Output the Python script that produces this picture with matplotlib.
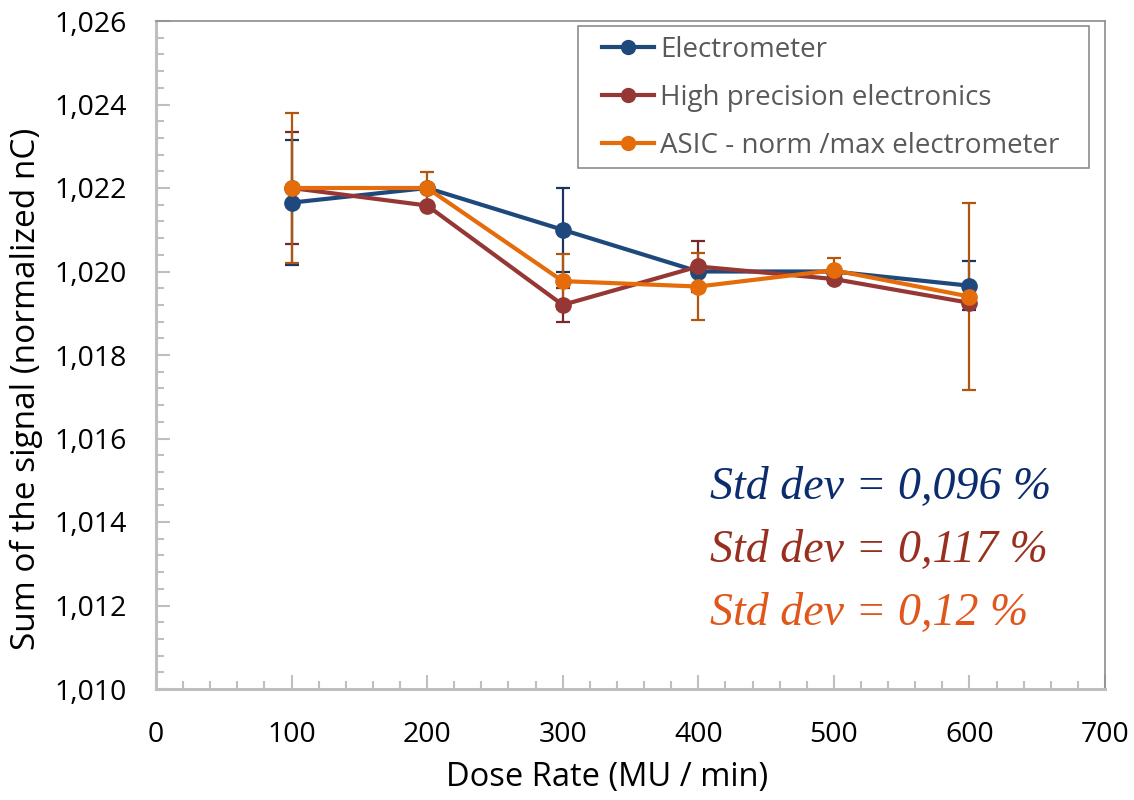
import numpy as np
import matplotlib.pyplot as plt
from matplotlib.patches import Rectangle
from matplotlib.ticker import MultipleLocator, FuncFormatter

# dose rates (MU/min)
dose = [100, 200, 300, 400, 500, 600]

# normalized sum of the signal for each system
electrometer = [1.02165, 1.0220, 1.0210, 1.0200, 1.0200, 1.01966]
electrometer_err = [0.0015, 0.0, 0.0010, 0.0, 0.0, 0.00058]

high_prec = [1.0220, 1.02158, 1.01920, 1.02012, 1.01982, 1.01925]
high_prec_err = [0.00135, 0.0, 0.0004, 0.0006, 0.0, 0.0]

asic = [1.0220, 1.0220, 1.01977, 1.01964, 1.02003, 1.01940]
asic_err = [0.0018, 0.00039, 0.00066, 0.0008, 0.0003, 0.00224]

std_text = ['Std dev = 0,096 %', 'Std dev = 0,117 %', 'Std dev = 0,12 %']

series = [
    ('Electrometer', electrometer, electrometer_err, '#1F497D', '#1A3560'),
    ('High precision electronics', high_prec, high_prec_err, '#953735', '#76282A'),
    ('ASIC - norm /max electrometer', asic, asic_err, '#E46C0A', '#B0560E'),
]
text_colors = ['#0B2D6E', '#99301F', '#E0561B']

plt.rcParams['font.family'] = ['Open Sans', 'DejaVu Sans']

fig = plt.figure(figsize=(11.34, 8.0), dpi=100)
ax = fig.add_axes([0.1376, 0.13875, 0.8368, 0.835])

for name, vals, err, col, ecol in series:
    ax.errorbar(dose, vals, yerr=err, fmt='none', ecolor=ecol, elinewidth=1.6,
                capsize=5, capthick=1.6, zorder=2)
    ax.plot(dose, vals, '-o', color=col, lw=3, ms=11, label=name, zorder=3)

ax.set_xlim(0, 700)
ax.set_ylim(1.010, 1.026)
ax.xaxis.set_major_locator(MultipleLocator(100))
ax.xaxis.set_minor_locator(MultipleLocator(20))
ax.yaxis.set_major_locator(MultipleLocator(0.002))
ax.yaxis.set_minor_locator(MultipleLocator(0.0004))
ax.yaxis.set_major_formatter(FuncFormatter(lambda v, p: ('%.3f' % v).replace('.', ',')))

ax.tick_params(which='both', direction='in', color='#BFBFBF', width=1.5,
               labelsize=20.5)
ax.tick_params(which='major', length=10)
ax.tick_params(which='minor', length=6)
ax.tick_params(axis='x', pad=23)
ax.tick_params(axis='y', pad=21)

for side in ['left', 'bottom']:
    ax.spines[side].set_color('#BFBFBF')
    ax.spines[side].set_linewidth(2.2)
for side in ['top', 'right']:
    ax.spines[side].set_color('#8C8C8C')
    ax.spines[side].set_linewidth(1.2)

ax.set_xlabel('Dose Rate (MU / min)', fontsize=23.5, labelpad=9)
ax.set_ylabel('Sum of the signal (normalized nC)', fontsize=24, labelpad=8)
ax.xaxis.label.set_x(0.475)
ax.yaxis.label.set_y(0.45)

# legend frame drawn separately (wider side padding than matplotlib gives)
ax.add_patch(Rectangle((0.4447, 0.78), 0.5384, 0.2125, transform=ax.transAxes,
                       facecolor='white', edgecolor='#8C8C8C', lw=1.2, zorder=4))
leg = ax.legend(loc='upper left', bbox_to_anchor=(0.4695, 0.978), borderaxespad=0,
                fontsize=20, handlelength=1.9, handletextpad=0.2,
                labelspacing=0.72, frameon=False, borderpad=0)
leg.set_zorder(5)
for t in leg.get_texts():
    t.set_color('#595959')
for h in leg.get_lines():
    h.set_linewidth(3)
    h.set_markersize(10)

ypos = [0.284, 0.19, 0.0958]
for txt, c, yp in zip(std_text, text_colors, ypos):
    ax.text(0.584, yp, txt, transform=ax.transAxes, color=c, fontsize=33,
            family='Liberation Serif', style='italic', va='baseline', ha='left')

fig.savefig('out.png', dpi=100)
